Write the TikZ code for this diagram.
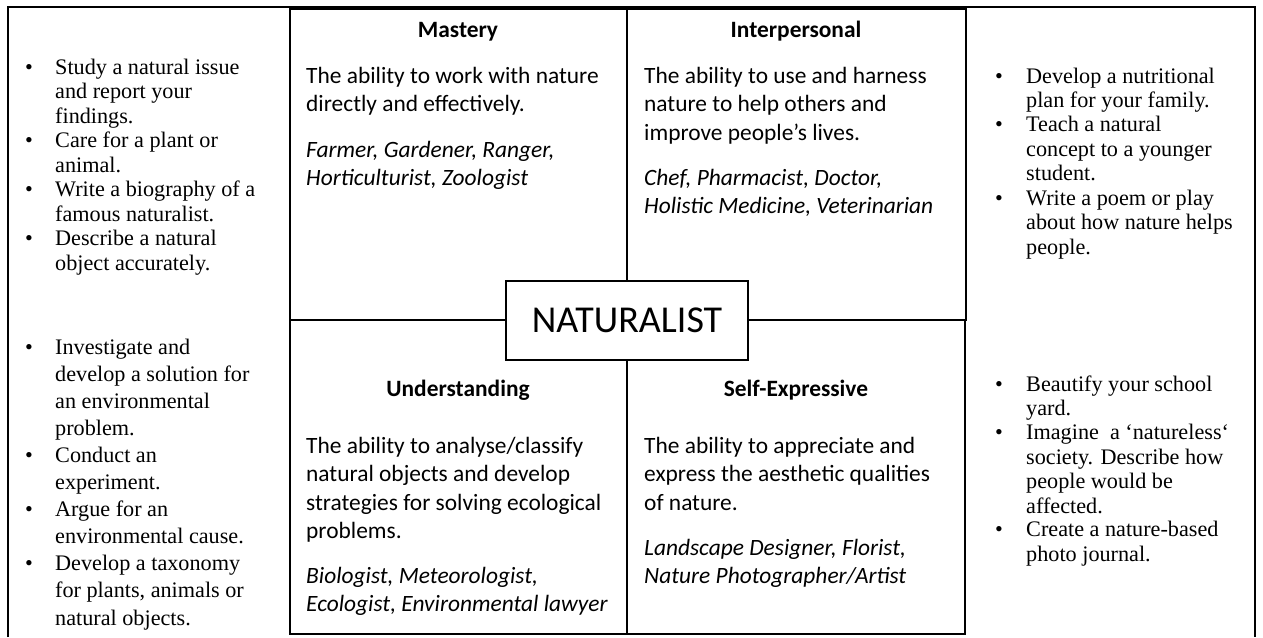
\documentclass[tikz,border=0pt]{standalone}
\usepackage{fontspec}
\setmainfont{Liberation Serif}
\newfontfamily\calfont{Carlito}
\newcommand\sblk[1]{\parbox[t]{300pt}{\fontsize{22.2}{24.5}\selectfont #1}}
\newcommand\sblkb[1]{\parbox[t]{300pt}{\fontsize{22.2}{27.1}\selectfont #1}}
\newcommand\cblk[1]{\parbox[t]{330pt}{\calfont\fontsize{23.4}{28.5}\selectfont #1}}
\begin{document}
\begin{tikzpicture}[x=1pt,y=-1pt,
  frame/.style={draw, line width=1.8pt, inner sep=0pt, anchor=north west},
  outer/.style={line width=1.4pt},
  txt/.style={inner sep=0pt, anchor=base west},
  hd/.style={inner sep=0pt, anchor=base, font=\calfont\bfseries\fontsize{23.4}{28.5}\selectfont},
  bul/.style={inner sep=0pt, anchor=base, font=\fontsize{22.2}{24.5}\selectfont},
]
\useasboundingbox (0,0) rectangle (1263,637);
% outer table frame
\coordinate (o1) at (8,637);
\coordinate (o2) at (8,7);
\coordinate (o3) at (1255,7);
\coordinate (o4) at (1255,637);
\draw[outer] (o1) -- (o2) -- (o3) -- (o4);
% quadrant frames
\node[frame, minimum width=676pt, minimum height=311pt] (top) at (289,8) {};
\node[frame, minimum width=675pt, minimum height=314pt] (bot) at (289,319) {};
\node[draw, fill=white, line width=2.2pt, minimum width=242pt, minimum height=79pt, inner sep=0pt,
      font=\calfont\fontsize{38}{44}\selectfont] (nat) at (627,320.5) {NATURALIST};
\draw[line width=1.8pt] (nat.north) -- (nat.north |- top.north);
\draw[line width=1.8pt] (nat.south) -- (nat.south |- bot.south);

% headings
\node[hd] (h1) at (458,37) {Mastery};
\node[hd] (h2) at (796,37) {Interpersonal};
\node[hd] (h3) at (458,396) {Understanding};
\node[hd] (h4) at (796,396) {Self-Expressive};

% quadrant texts
\node[txt] (m1) at (306,83) {\cblk{The ability to work with nature\\directly and effectively.}};
\node[txt] (m2) at (306,157) {\cblk{\itshape Farmer, Gardener, Ranger,\\Horticulturist, Zoologist}};
\node[txt] (i1) at (644,83) {\cblk{The ability to use and harness\\nature to help others and\\improve people’s lives.}};
\node[txt] (i2) at (644,185) {\cblk{\itshape Chef, Pharmacist, Doctor,\\Holistic Medicine, Veterinarian}};
\node[txt] (u1) at (306,453) {\cblk{The ability to analyse/classify\\natural objects and develop\\strategies for solving ecological\\problems.}};
\node[txt] (u2) at (306,583) {\cblk{\itshape Biologist, Meteorologist,\\Ecologist, Environmental lawyer}};
\node[txt] (s1) at (644,453) {\cblk{The ability to appreciate and\\express the aesthetic qualities\\of nature.}};
\node[txt] (s2) at (644,555) {\cblk{\itshape Landscape Designer, Florist,\\Nature Photographer/Artist}};

% left top list
\node[bul] (b1) at (29,74) {•};
\node[txt] (l1) at (55,74) {\sblk{Study a natural issue\\and report your\\findings.}};
\node[bul] (b2) at (29,147.5) {•};
\node[txt] (l2) at (55,147.5) {\sblk{Care for a plant or\\animal.}};
\node[bul] (b3) at (29,196.5) {•};
\node[txt] (l3) at (55,196.5) {\sblk{Write a biography of a\\famous naturalist.}};
\node[bul] (b4) at (29,245.5) {•};
\node[txt] (l4) at (55,245.5) {\sblk{Describe a natural\\object accurately.}};

% left bottom list
\node[bul] (b5) at (29,354) {•};
\node[txt] (l5) at (55,354) {\sblkb{Investigate and\\develop a solution for\\an environmental\\problem.}};
\node[bul] (b6) at (29,462.4) {•};
\node[txt] (l6) at (55,462.4) {\sblkb{Conduct an\\experiment.}};
\node[bul] (b7) at (29,516.6) {•};
\node[txt] (l7) at (55,516.6) {\sblkb{Argue for an\\environmental cause.}};
\node[bul] (b8) at (29,570.8) {•};
\node[txt] (l8) at (55,570.8) {\sblkb{Develop a taxonomy\\for plants, animals or\\natural objects.}};

% right top list
\node[bul] (b9) at (999,83) {•};
\node[txt] (r1) at (1026,83) {\sblk{Develop a nutritional\\plan for your family.}};
\node[bul] (b10) at (999,131.8) {•};
\node[txt] (r2) at (1026,131.8) {\sblk{Teach a natural\\concept to a younger\\student.}};
\node[bul] (b11) at (999,205) {•};
\node[txt] (r3) at (1026,205) {\sblk{Write a poem or play\\about how nature helps\\people.}};

% right bottom list
\node[bul] (b12) at (999,391) {•};
\node[txt] (r4) at (1026,391) {\sblk{Beautify your school\\yard.}};
\node[bul] (b13) at (999,439.6) {•};
\node[txt] (r5) at (1026,439.6) {\sblk{Imagine\ \ a ‘natureless‘\\society. Describe how\\people would be\\affected.}};
\node[bul] (b14) at (999,536.8) {•};
\node[txt] (r6) at (1026,536.8) {\sblk{Create a nature-based\\photo journal.}};
\end{tikzpicture}
\end{document}
